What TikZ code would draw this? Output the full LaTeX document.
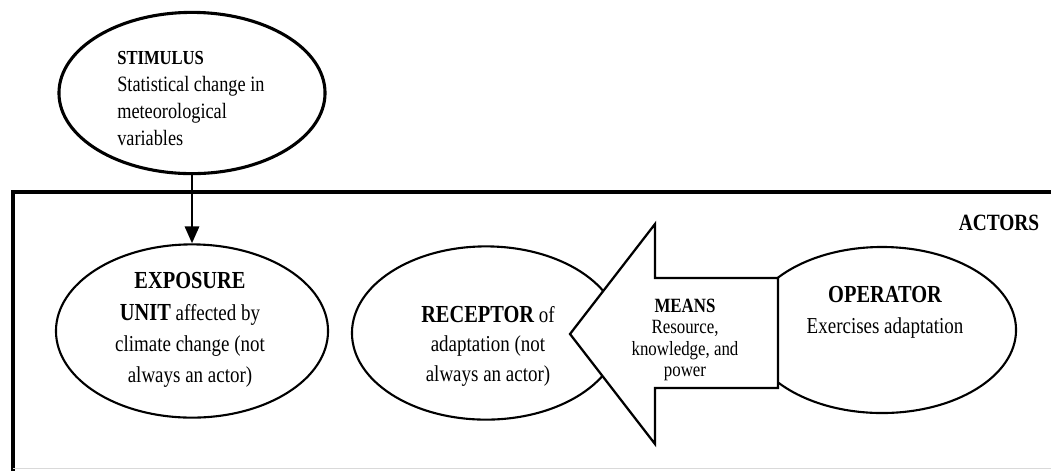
\documentclass[tikz,border=0pt]{standalone}
\usepackage{fontspec}
\setmainfont{Liberation Serif}
\usepackage{tikz}
\usetikzlibrary{calc,positioning,arrows.meta,shapes.geometric}
\tikzset{
  >={Triangle[length=12pt,width=10pt]},
  bubble/.style={
    ellipse,
    draw=black, line width=1.5pt,
    fill=white,
    inner sep=0pt},
  frame/.style={draw=black, line width=2.2pt},
  means/.style={draw=black, line width=1.6pt, fill=white, line join=miter},
  label/.style={
    inner sep=0pt,
    yscale=1.2,
    align=center,
    font={\fontsize{13.5}{18.5}\selectfont}},
  stem/.style={draw, line width=2pt, ->},
}
\newcommand{\hd}[1]{{\fontsize{14.5}{18.5}\selectfont\bfseries #1}}

\begin{document}
\begin{tikzpicture}[x=0.025cm,y=-0.025cm]
    \useasboundingbox (0,0) rectangle (1051,470);

    % actors frame, open to the right
    \draw[frame] (1060,192) -- (13,192) -- (13,475);
    \draw[gray!30, line width=0.6pt] (13,468) -- (1051,468);
    \node[label, font={\fontsize{13.8}{16}\selectfont\bfseries}] (actors) at (999,223) {ACTORS};

    % ellipses
    \node[bubble, line width=2.2pt, minimum width=6.65cm, minimum height=4.03cm] (stim) at (192,93) {};
    \node[bubble, minimum width=6.8cm, minimum height=4.33cm] (expo) at (192,331) {};
    \node[bubble, minimum width=6.7cm, minimum height=4.33cm] (recep) at (486,333) {};
    \node[bubble, minimum width=6.7cm, minimum height=4.15cm] (oper) at (882,330) {};

    % the means arrow lies over receptor and operator
    \draw[means] (778,278) -- (655,278) -- (655,224) -- (570,334)
        -- (655,444) -- (655,388) -- (778,388) -- cycle;

    \draw[stem] (stim.south) -- (expo.north);

    % texts
    \node[label, align=left, anchor=west, font={\fontsize{13}{16}\selectfont}] (stimtext) at (117,99)
        {{\fontsize{11.8}{16}\selectfont\bfseries STIMULUS}\\Statistical change in\\meteorological\\variables};
    \node[label] (expotext) at (190,330)
        {\hd{EXPOSURE}\\\hd{UNIT} affected by\\climate change (not\\always an actor)};
    \node[label, font={\fontsize{13.5}{17.5}\selectfont}] (receptext) at (488,346)
        {\hd{RECEPTOR} of\\adaptation (not\\always an actor)};
    \node[label, font={\fontsize{12}{12.7}\selectfont}] (meanstext) at (685,340)
        {\textbf{MEANS}\\Resource,\\knowledge, and\\power};
    \node[label] (opertext) at (885,312)
        {\hd{OPERATOR}\\Exercises adaptation};
\end{tikzpicture}
\end{document}
